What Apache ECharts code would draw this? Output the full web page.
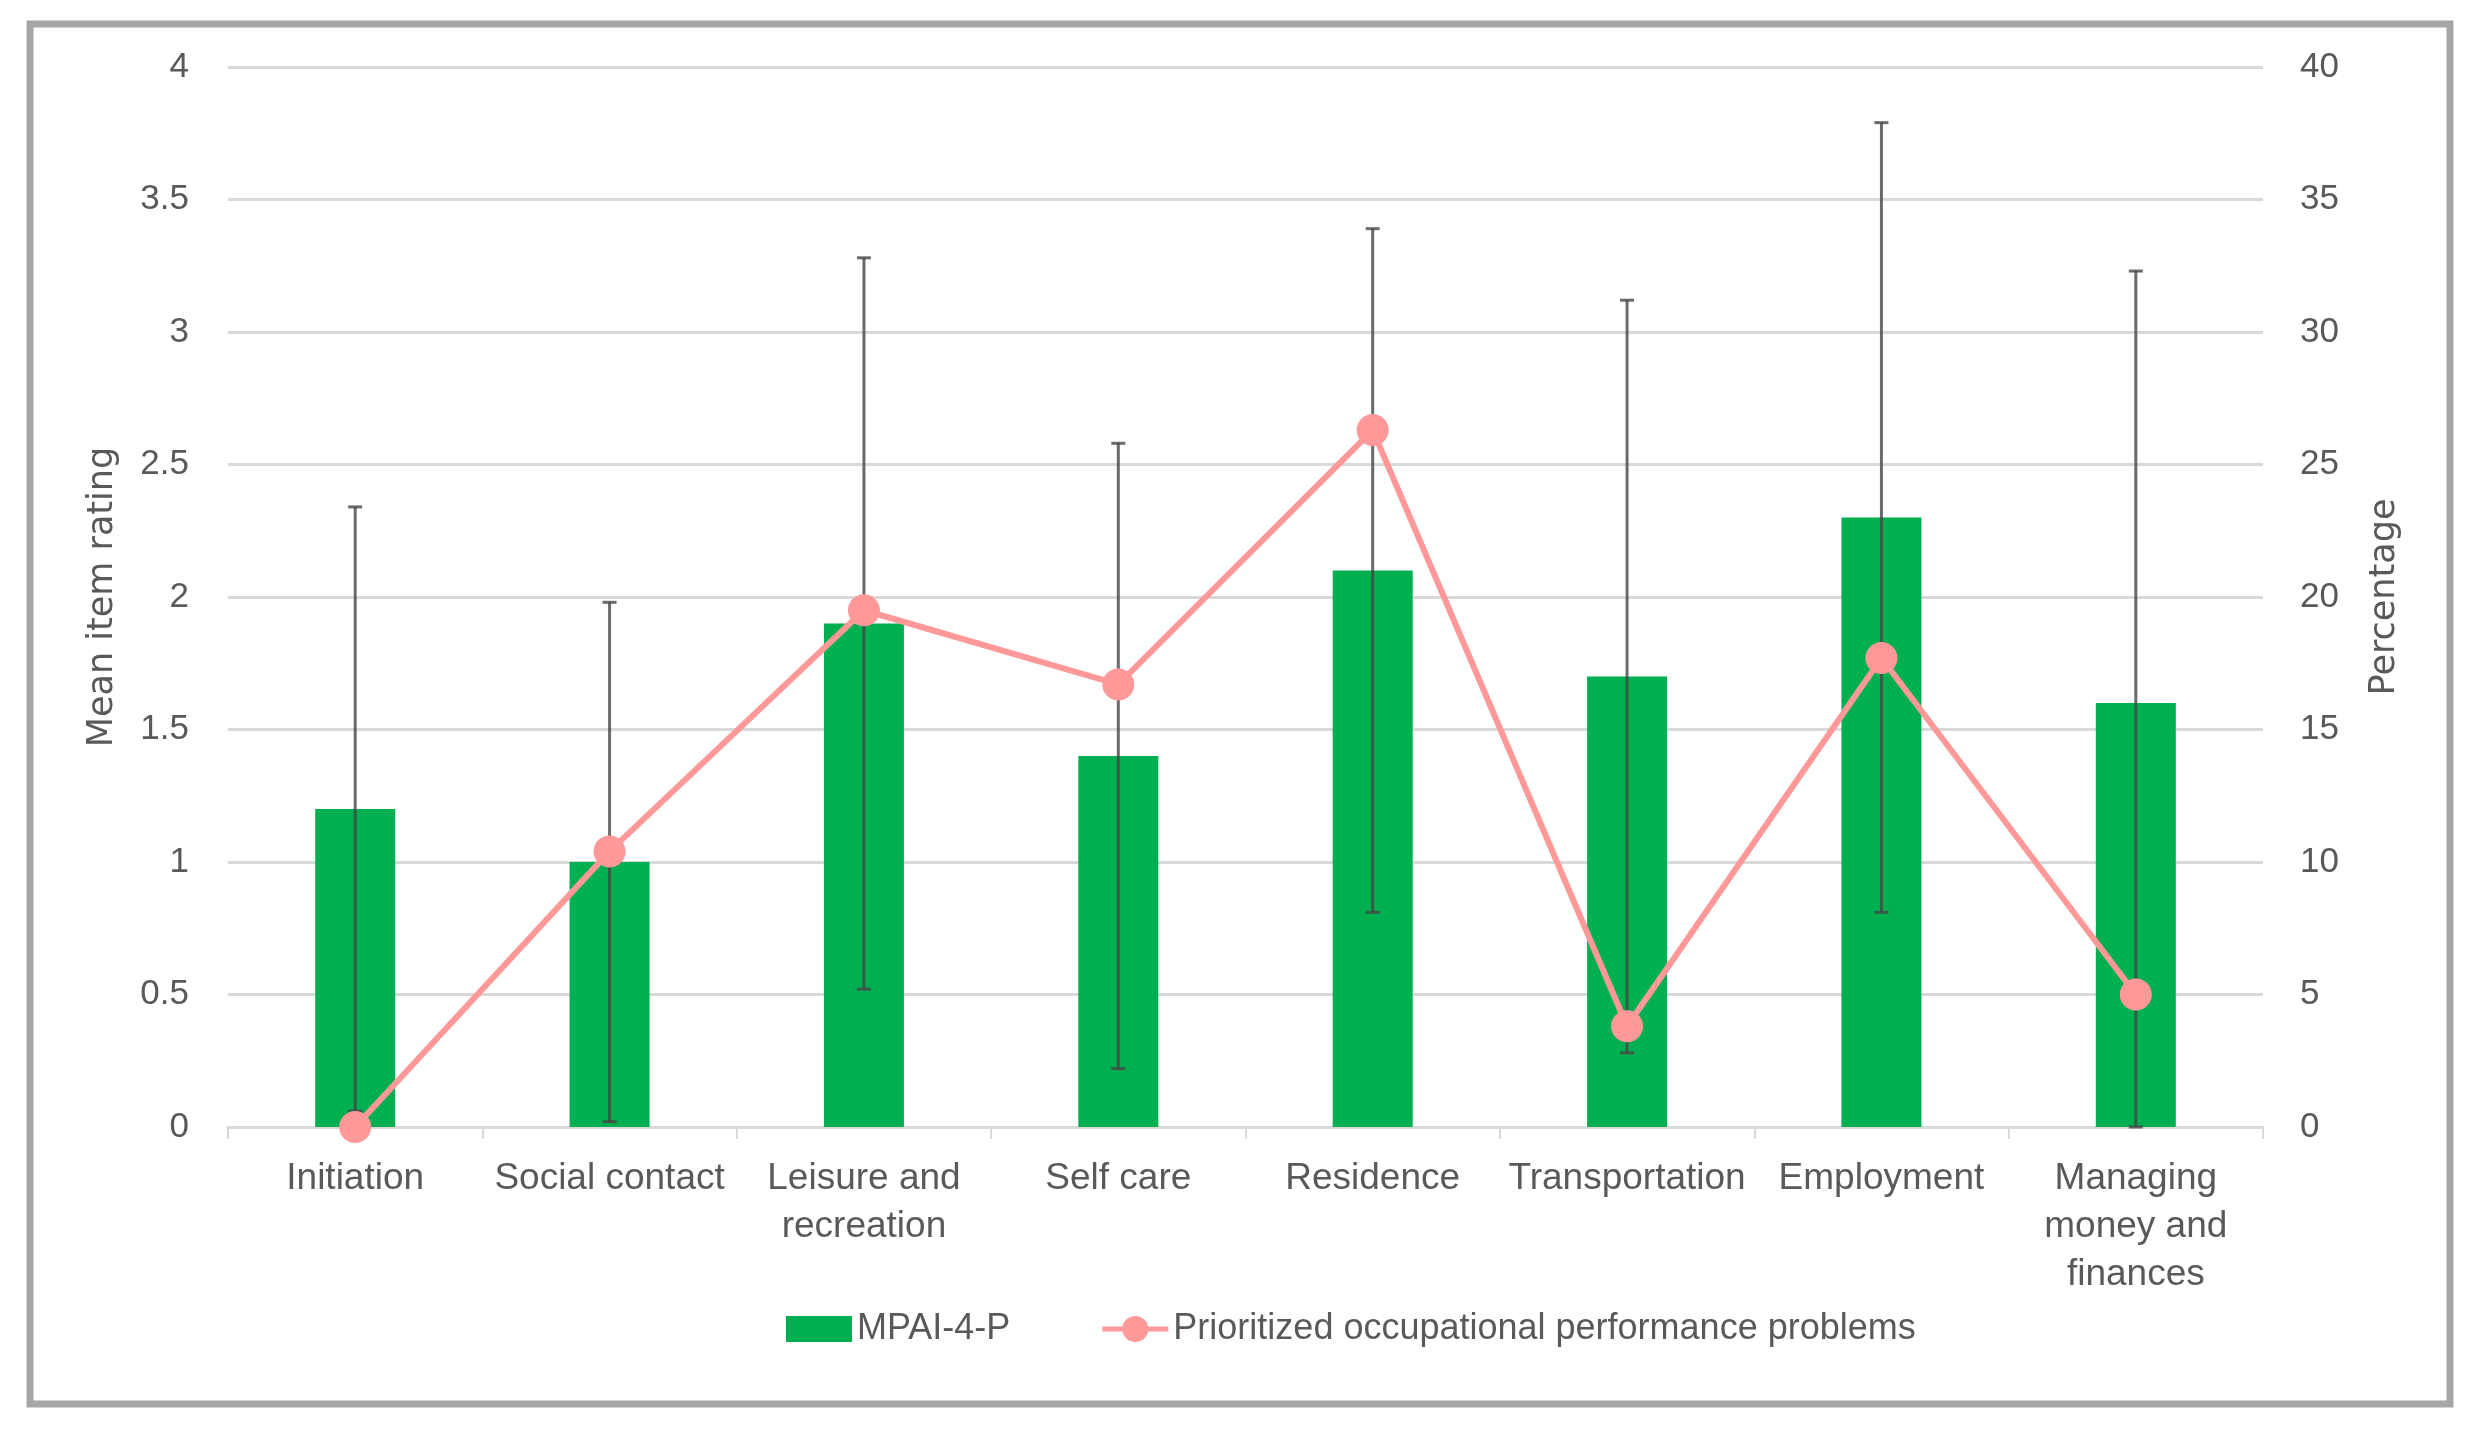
<!DOCTYPE html>
<html>
<head>
<meta charset="utf-8">
<script src="https://cdn.jsdelivr.net/npm/echarts@6/dist/echarts.min.js"></script>
<style>
html,body{margin:0;padding:0;background:#fff;}
#chart{width:2478px;height:1430px;}
</style>
</head>
<body>
<div id="chart"></div>
<script>
const categories = ["Initiation", "Social contact", "Leisure and\nrecreation", "Self care", "Residence", "Transportation", "Employment", "Managing\nmoney and\nfinances"];
const mpaiMean = [1.2, 1.0, 1.9, 1.4, 2.1, 1.7, 2.3, 1.6];
const errLow  = [0.06, 0.02, 0.52, 0.22, 0.81, 0.28, 0.81, 0.0];
const errHigh = [2.34, 1.98, 3.28, 2.58, 3.39, 3.12, 3.79, 3.23];
const prioritizedPct = [0, 10.4, 19.5, 16.7, 26.3, 3.8, 17.7, 5.0];
const leftTicks = ["0", "0.5", "1", "1.5", "2", "2.5", "3", "3.5", "4"];

const FONT = '"Liberation Sans", Arial, sans-serif';
const TITLE_FONT = '"DejaVu Sans", Verdana, sans-serif';
const TXT = '#595959';

const errData = categories.map((c, i) => [i, errLow[i], errHigh[i]]);

const chart = echarts.init(document.getElementById('chart'), null, {renderer: 'canvas'});
chart.setOption({
  backgroundColor: '#ffffff',
  animation: false,
  graphic: [{
    type: 'rect',
    shape: {x: 30, y: 24, width: 2420, height: 1380},
    style: {fill: 'none', stroke: '#a6a6a6', lineWidth: 7},
    silent: true
  }],
  grid: {left: 228, right: 215, top: 67, bottom: 303, containLabel: false},
  legend: {
    left: 781, top: 1306,
    itemWidth: 66, itemHeight: 26, itemGap: 92,
    symbolKeepAspect: false,
    textStyle: {fontFamily: FONT, fontSize: 36, color: TXT, padding: [0, 0, 0, 0]},
    data: [
      {name: 'MPAI-4-P', icon: 'path://M0 1h66v24H0z'},
      {name: 'Prioritized occupational performance problems',
       icon: 'path://M0 10.5h66v5H0z M20 13a13 13 0 1 1 26 0a13 13 0 1 1 -26 0z',
       itemStyle: {color: '#ff9999'}}
    ]
  },
  xAxis: {
    type: 'category',
    data: categories,
    axisLine: {show: true, lineStyle: {color: '#d9d9d9', width: 3}},
    axisTick: {show: true, length: 12, lineStyle: {color: '#d9d9d9', width: 2}},
    axisLabel: {interval: 0, fontFamily: FONT, fontSize: 37, color: TXT, lineHeight: 48, margin: 28}
  },
  yAxis: [{
    type: 'value', min: 0, max: 4, interval: 0.5,
    name: 'Mean item rating', nameLocation: 'middle', nameGap: 108, nameRotate: 90,
    nameTextStyle: {fontFamily: TITLE_FONT, fontSize: 35, color: TXT},
    axisLine: {show: false}, axisTick: {show: false},
    axisLabel: {fontFamily: FONT, fontSize: 35, color: TXT, margin: 39,
      formatter: (v) => leftTicks[Math.round(v / 0.5)]},
    splitLine: {show: true, lineStyle: {color: '#d9d9d9', width: 3}}
  }, {
    type: 'value', min: 0, max: 40, interval: 5,
    name: 'Percentage', nameLocation: 'middle', nameGap: 104, nameRotate: 90,
    nameTextStyle: {fontFamily: TITLE_FONT, fontSize: 35, color: TXT},
    axisLine: {show: false}, axisTick: {show: false},
    axisLabel: {fontFamily: FONT, fontSize: 35, color: TXT, margin: 37},
    splitLine: {show: false}
  }],
  series: [{
    name: 'MPAI-4-P',
    type: 'bar',
    data: mpaiMean,
    yAxisIndex: 0,
    barWidth: 80,
    itemStyle: {color: '#00b050'},
    z: 2
  }, {
    name: 'errors',
    type: 'custom',
    yAxisIndex: 0,
    data: errData,
    encode: {x: 0, y: [1, 2]},
    z: 3,
    silent: true,
    renderItem: function (params, api) {
      const i = api.value(0);
      const lo = api.coord([i, api.value(1)]);
      const hi = api.coord([i, api.value(2)]);
      const hw = 7;
      const st = {stroke: 'rgba(70,70,70,0.8)', lineWidth: 3};
      return {
        type: 'group',
        children: [
          {type: 'line', shape: {x1: lo[0], y1: lo[1], x2: hi[0], y2: hi[1]}, style: st},
          {type: 'line', shape: {x1: hi[0] - hw, y1: hi[1], x2: hi[0] + hw, y2: hi[1]}, style: st},
          {type: 'line', shape: {x1: lo[0] - hw, y1: lo[1], x2: lo[0] + hw, y2: lo[1]}, style: st}
        ]
      };
    }
  }, {
    name: 'Prioritized occupational performance problems',
    type: 'line',
    data: prioritizedPct,
    yAxisIndex: 1,
    symbol: 'circle',
    symbolSize: 32,
    lineStyle: {color: '#ff9999', width: 6},
    itemStyle: {color: '#ff9999'},
    z: 4
  }]
});
</script>
</body>
</html>
